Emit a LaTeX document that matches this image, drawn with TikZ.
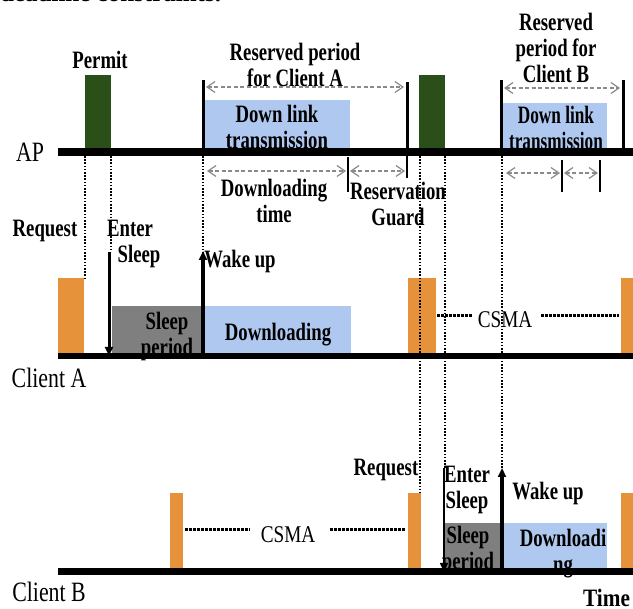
\documentclass[tikz,border=0pt]{standalone}
\usepackage{fontspec}
\setmainfont{Liberation Serif}
\usetikzlibrary{arrows.meta}
\definecolor{permitgreen}{HTML}{2A4F18}
\definecolor{reqorange}{HTML}{E6923A}
\definecolor{dlblue}{HTML}{AEC8EF}
\definecolor{sleepgray}{HTML}{7F7F7F}
\definecolor{arrgray}{HTML}{8A8A8A}
\tikzset{
  blbase/.style={font=\fontsize{25}{26}\selectfont\bfseries, inner sep=0pt, align=center},
  bl/.style={blbase, xscale=0.75},
  blB/.style={blbase, xscale=0.69},
  rg/.style={font=\fontsize{28}{30}\selectfont, inner sep=0pt, xscale=0.78},
  csma/.style={font=\fontsize{24}{26}\selectfont, inner sep=0pt, xscale=0.8},
  timeline/.style={line width=#1, draw=black},
  permitbox/.style={fill=permitgreen},
  reqbox/.style={fill=reqorange},
  dlbox/.style={fill=dlblue},
  sleepbox/.style={fill=sleepgray},
  resbar/.style={line width=3pt},
  tickbar/.style={line width=1.5pt},
  span/.style={draw=arrgray, line width=1.2pt, dash pattern=on 4pt off 2.5pt,
     {Straight Barb[length=8pt,width=11pt,line width=1.2pt]}-{Straight Barb[length=8pt,width=11pt,line width=1.2pt]}},
  vdot/.style={line width=1.6pt, dash pattern=on 1.6pt off 1.6pt},
  cdot/.style={line width=3pt, dash pattern=on 2.5pt off 1.5pt},
  evarrow/.style={line width=#1, -{Triangle[length=9pt,width=8pt]}},
}
\begin{document}
\begin{tikzpicture}[x=1pt,y=-1pt]
\useasboundingbox (0,0) rectangle (633,609);
% caption remnant
\node[font=\fontsize{25}{26}\selectfont\bfseries, inner sep=0pt, anchor=base west] (cap) at (0,1.5) {deadline constraints.};
% ---------- AP ----------
\fill[permitbox] (85,75) rectangle (111,152);
\fill[permitbox] (419,75) rectangle (445,152);
\fill[dlbox] (205,100) rectangle (350,152);
\fill[dlbox] (503,103) rectangle (607,152);
\node[bl] (permit) at (100,60) {Permit};
\node[bl] (resA) at (295,65) {Reserved period\\for Client A};
\node[bl] (resB) at (556,48) {Reserved\\period for\\Client B};
\node[bl] (dlA) at (277,127) {Down link\\transmission};
\node[blB] (dlB) at (556,128) {Down link\\transmission};
\node[bl] (dtime) at (274,201) {Downloading\\time};
\node[bl] (guard) at (398,204) {Reservation\\Guard};
% ---------- Client A ----------
\fill[reqbox] (58,278) rectangle (84,356);
\fill[sleepbox] (112,306) rectangle (203,356);
\fill[dlbox] (205,306) rectangle (351,356);
\fill[reqbox] (408,278) rectangle (436,356);
\fill[reqbox] (621,278) rectangle (633,356);
\node[bl] (reqA) at (45,231) {Request};
\node[bl, align=left, anchor=north west] (enterA) at (107,220) {Enter\\\hspace*{14pt}Sleep};
\node[bl] (wakeA) at (240,261) {Wake up};
\node[bl] (sleepA) at (167,336) {Sleep\\period};
\node[bl] (downA) at (278,335) {Downloading};
\node[csma] (csmaA) at (505,320) {CSMA};
% ---------- Client B ----------
\fill[reqbox] (170,493) rectangle (183,572);
\fill[reqbox] (408,493) rectangle (421,572);
\fill[sleepbox] (445,523) rectangle (500,572);
\fill[dlbox] (503,523) rectangle (607,572);
\fill[reqbox] (621,493) rectangle (633,572);
\node[bl] (reqB) at (386,470) {Request};
\node[bl] (enterB) at (467,490) {Enter\\Sleep};
\node[bl] (wakeB) at (548,493) {Wake up};
\node[bl] (sleepB) at (468,550) {Sleep\\period};
\node[bl] (downB) at (563,554) {Downloadi\\ng};
\node[csma] (csmaB) at (288,535) {CSMA};
% ---------- labels ----------
\node[rg] (ap) at (30,152) {AP};
\node[rg] (clA) at (49,378) {Client A};
\node[rg] (clB) at (49,592) {Client B};
\node[font=\fontsize{25}{26}\selectfont\bfseries, inner sep=0pt, anchor=base west, xscale=0.85] (time) at (583,607) {Time};
% ---------- time lines ----------
\coordinate (apL) at (58,152); \coordinate (apR) at (633,152);
\coordinate (caL) at (58,356); \coordinate (caR) at (633,356);
\coordinate (cbL) at (58,572); \coordinate (cbR) at (633,572);
\draw[timeline=8pt] (apL) -- (apR);
\draw[timeline=6pt] (caL) -- (caR);
\draw[timeline=7pt] (cbL) -- (cbR);
% reservation bars
\draw[resbar] (203,80) -- (203,152);
\draw[resbar] (407,82) -- (407,152);
\draw[resbar] (501,80) -- (501,152);
\draw[resbar] (623,80) -- (623,152);
% ticks under AP
\draw[tickbar] (348,157) -- (348,192);
\draw[tickbar] (407,152) -- (407,178);
\draw[tickbar] (562,160) -- (562,192);
\draw[tickbar] (600,160) -- (600,192);
% dashed spans
\draw[span] (206,87) -- (404,87);
\draw[span] (504,88) -- (620,88);
\draw[span] (207,171) -- (346,171);
\draw[span] (350,171) -- (405,171);
\draw[span] (506,173) -- (560,173);
\draw[span] (564,173) -- (598,173);
% dotted verticals
\draw[vdot] (85,156) -- (85,278);
\draw[vdot] (111,156) -- (111,252);
\draw[vdot] (203,156) -- (203,253);
\draw[vdot] (420,156) -- (420,493);
\draw[vdot] (445,156) -- (445,468);
\draw[vdot] (502,156) -- (502,470);
% CSMA dotted
\draw[cdot] (437,316) -- (472,316);
\draw[cdot] (541,316) -- (619,316);
\draw[cdot] (185,530) -- (250,530);
\draw[cdot] (330,530) -- (406,530);
% sleep / wake arrows
\draw[evarrow=3pt] (109,252) -- (109,356);
\draw[evarrow=3.5pt] (203,358) -- (203,251);
\draw[evarrow=1.5pt] (444,468) -- (444,572);
\draw[evarrow=3.5pt] (502,574) -- (502,468);
\end{tikzpicture}
\end{document}
